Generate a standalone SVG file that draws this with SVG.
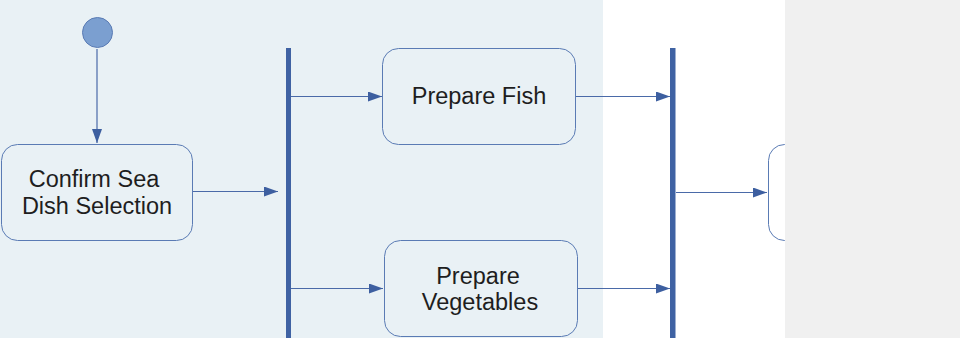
<svg xmlns="http://www.w3.org/2000/svg" width="960" height="338" viewBox="0 0 960 338">
  <defs>
    <marker id="arrow" viewBox="0 0 14 10" refX="14" refY="5" markerWidth="14" markerHeight="10" markerUnits="userSpaceOnUse" orient="auto">
      <path d="M0,0 L14,5 L0,10 Z" fill="#3d5fa0"/>
    </marker>
    <clipPath id="canvasClip">
      <rect x="0" y="0" width="785" height="338"/>
    </clipPath>
  </defs>
  <style>
    .action { fill: #e9f1f5; stroke: #5a7bb4; stroke-width: 1; }
    .action-plain { fill: #ffffff; stroke: #5a7bb4; stroke-width: 1; }
    .label { font-family: "Liberation Sans", Arial, sans-serif; font-size: 23.5px; fill: #1e1e1e; text-anchor: middle; }
    .flow { stroke: #4a6aa8; stroke-width: 1.2; fill: none; marker-end: url(#arrow); }
    .bar { fill: #3f62a3; }
  </style>

  <!-- swimlane backgrounds -->
  <rect x="0" y="0" width="603" height="338" fill="#e9f1f5"/>
  <rect x="603" y="0" width="182" height="338" fill="#ffffff"/>
  <rect x="785" y="0" width="175" height="338" fill="#f0f0f0"/>

  <g clip-path="url(#canvasClip)">
    <!-- connectors -->
    <g id="connectors">
      <line class="flow" x1="97" y1="49" x2="97" y2="143" stroke="#86a0cc"/>
      <line class="flow" x1="193" y1="191.5" x2="278" y2="191.5"/>
      <line class="flow" x1="291" y1="96.5" x2="382" y2="96.5"/>
      <line class="flow" x1="291" y1="288.5" x2="383" y2="288.5"/>
      <line class="flow" x1="576" y1="96.5" x2="670" y2="96.5"/>
      <line class="flow" x1="577" y1="288.5" x2="670" y2="288.5"/>
      <line class="flow" x1="676" y1="192.5" x2="767" y2="192.5"/>
    </g>

    <!-- initial node -->
    <g id="start">
      <circle cx="97.5" cy="32.5" r="15" fill="#7b9fd0" stroke="#5a7bb4" stroke-width="1"/>
    </g>

    <!-- actions -->
    <g id="confirm-selection">
      <rect class="action" x="1.5" y="144.5" width="191" height="96" rx="16" ry="16"/>
      <text class="label" x="94" y="187">Confirm Sea</text>
      <text class="label" x="97" y="213.5">Dish Selection</text>
    </g>

    <g id="fork">
      <rect class="bar" x="286" y="48" width="5" height="290"/>
    </g>

    <g id="prepare-fish">
      <rect class="action" x="382.5" y="48.5" width="193" height="96" rx="16" ry="16"/>
      <text class="label" x="479" y="104">Prepare Fish</text>
    </g>

    <g id="prepare-vegetables">
      <rect class="action" x="384.5" y="240.5" width="193" height="96" rx="16" ry="16"/>
      <text class="label" x="478" y="283.5">Prepare</text>
      <text class="label" x="480" y="310">Vegetables</text>
    </g>

    <g id="join">
      <rect class="bar" x="670" y="48" width="5.5" height="290"/>
    </g>

    <g id="next-action">
      <rect class="action-plain" x="768.5" y="144.5" width="193" height="96" rx="16" ry="16"/>
    </g>
  </g>
</svg>
